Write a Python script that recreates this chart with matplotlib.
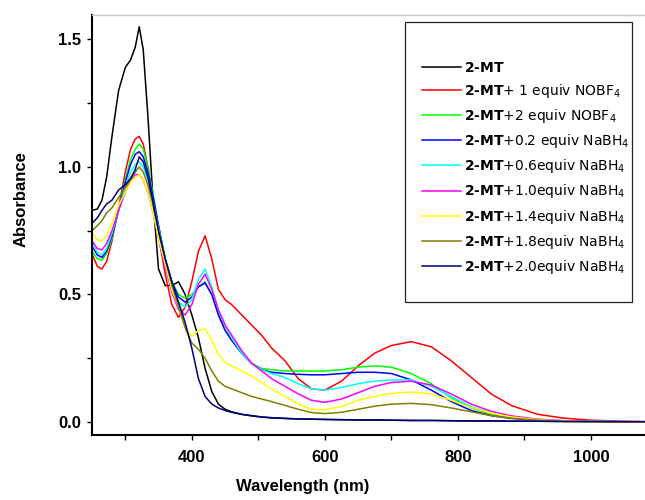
import matplotlib
matplotlib.use("Agg")
import matplotlib.pyplot as plt
from matplotlib.patches import Rectangle
from matplotlib.ticker import FormatStrFormatter

# wavelength grid (nm)
wavelength = [250, 258, 265, 272, 280, 290, 300, 308, 315, 321, 327, 334, 342, 350,
              360, 370, 380, 390, 400, 410, 420, 430, 440, 450, 460, 475, 490, 505,
              520, 540, 560, 580, 600, 625, 650, 675, 700, 730, 760, 790, 820, 850,
              880, 920, 960, 1000, 1050, 1100]

mt = [0.83, 0.835, 0.87, 0.96, 1.12, 1.30, 1.39, 1.42, 1.47, 1.55, 1.46, 1.20, 0.86, 0.60,
      0.535, 0.535, 0.55, 0.50, 0.42, 0.33, 0.21, 0.12, 0.07, 0.05, 0.04, 0.03, 0.024, 0.019,
      0.016, 0.014, 0.012, 0.011, 0.010, 0.009, 0.008, 0.008, 0.007, 0.006, 0.006, 0.005, 0.004, 0.004,
      0.003, 0.003, 0.002, 0.002, 0.001, 0.001]
nobf4_1 = [0.66, 0.61, 0.60, 0.63, 0.71, 0.84, 0.98, 1.07, 1.11, 1.12, 1.09, 1.00, 0.87, 0.73,
           0.58, 0.46, 0.41, 0.45, 0.55, 0.67, 0.73, 0.64, 0.52, 0.48, 0.46, 0.42, 0.38, 0.34,
           0.29, 0.24, 0.17, 0.13, 0.125, 0.16, 0.22, 0.27, 0.30, 0.315, 0.295, 0.24, 0.175, 0.11,
           0.065, 0.03, 0.015, 0.007, 0.003, 0.001]
nobf4_2 = [0.67, 0.64, 0.635, 0.66, 0.72, 0.83, 0.95, 1.03, 1.07, 1.09, 1.07, 1.00, 0.89, 0.77,
           0.64, 0.55, 0.50, 0.485, 0.50, 0.53, 0.55, 0.50, 0.42, 0.36, 0.32, 0.27, 0.23, 0.21,
           0.205, 0.20, 0.20, 0.20, 0.20, 0.205, 0.215, 0.22, 0.215, 0.19, 0.15, 0.095, 0.055, 0.03,
           0.018, 0.009, 0.005, 0.003, 0.001, 0.0]
nabh4_02 = [0.69, 0.655, 0.645, 0.67, 0.73, 0.83, 0.94, 1.01, 1.05, 1.06, 1.04, 0.98, 0.88, 0.77,
            0.64, 0.55, 0.49, 0.47, 0.49, 0.53, 0.545, 0.50, 0.42, 0.36, 0.32, 0.27, 0.23, 0.205,
            0.195, 0.19, 0.187, 0.185, 0.185, 0.19, 0.195, 0.195, 0.19, 0.165, 0.125, 0.08, 0.045, 0.025,
            0.014, 0.007, 0.004, 0.002, 0.001, 0.0]
nabh4_06 = [0.70, 0.665, 0.655, 0.68, 0.74, 0.83, 0.92, 0.98, 1.01, 1.02, 1.00, 0.95, 0.86, 0.76,
            0.64, 0.54, 0.47, 0.45, 0.48, 0.56, 0.60, 0.53, 0.44, 0.38, 0.33, 0.27, 0.23, 0.205,
            0.19, 0.175, 0.15, 0.13, 0.125, 0.135, 0.15, 0.16, 0.165, 0.165, 0.14, 0.10, 0.06, 0.035,
            0.02, 0.009, 0.004, 0.002, 0.001, 0.0]
nabh4_10 = [0.71, 0.68, 0.675, 0.70, 0.75, 0.83, 0.90, 0.95, 0.97, 0.97, 0.95, 0.90, 0.82, 0.72,
            0.61, 0.51, 0.44, 0.42, 0.46, 0.54, 0.58, 0.52, 0.44, 0.38, 0.34, 0.28, 0.23, 0.20,
            0.17, 0.14, 0.11, 0.085, 0.077, 0.09, 0.115, 0.14, 0.155, 0.16, 0.145, 0.11, 0.07, 0.042,
            0.024, 0.011, 0.005, 0.002, 0.001, 0.0]
nabh4_14 = [0.74, 0.715, 0.71, 0.73, 0.78, 0.85, 0.90, 0.94, 0.96, 0.97, 0.95, 0.90, 0.82, 0.72,
            0.62, 0.52, 0.45, 0.37, 0.335, 0.36, 0.365, 0.32, 0.265, 0.235, 0.22, 0.20, 0.18, 0.155,
            0.13, 0.10, 0.07, 0.05, 0.048, 0.06, 0.085, 0.10, 0.112, 0.118, 0.11, 0.085, 0.057, 0.035,
            0.02, 0.009, 0.004, 0.002, 0.001, 0.0]
nabh4_18 = [0.75, 0.77, 0.79, 0.82, 0.84, 0.88, 0.92, 0.95, 0.98, 1.00, 0.98, 0.93, 0.85, 0.75,
            0.64, 0.54, 0.45, 0.37, 0.31, 0.285, 0.25, 0.20, 0.16, 0.14, 0.13, 0.115, 0.10, 0.09,
            0.08, 0.065, 0.05, 0.037, 0.033, 0.038, 0.05, 0.062, 0.07, 0.073, 0.068, 0.055, 0.04, 0.025,
            0.015, 0.007, 0.003, 0.001, 0.0005, 0.0]
nabh4_20 = [0.78, 0.80, 0.83, 0.855, 0.87, 0.91, 0.93, 0.955, 0.99, 1.04, 1.02, 0.96, 0.86, 0.75,
            0.64, 0.55, 0.47, 0.39, 0.29, 0.17, 0.10, 0.07, 0.055, 0.045, 0.038, 0.03, 0.025, 0.02,
            0.017, 0.014, 0.012, 0.011, 0.010, 0.009, 0.008, 0.008, 0.007, 0.006, 0.006, 0.005, 0.004, 0.004,
            0.003, 0.003, 0.002, 0.002, 0.001, 0.001]

series = [mt, nobf4_1, nobf4_2, nabh4_02, nabh4_06, nabh4_10, nabh4_14, nabh4_18, nabh4_20]
labels = [
    r"$\mathbf{2‐MT}$",
    r"$\mathbf{2‐MT}$+ 1 equiv NOBF$_4$",
    r"$\mathbf{2‐MT}$+2 equiv NOBF$_4$",
    r"$\mathbf{2‐MT}$+0.2 equiv NaBH$_4$",
    r"$\mathbf{2‐MT}$+0.6equiv NaBH$_4$",
    r"$\mathbf{2‐MT}$+1.0equiv NaBH$_4$",
    r"$\mathbf{2‐MT}$+1.4equiv NaBH$_4$",
    r"$\mathbf{2‐MT}$+1.8equiv NaBH$_4$",
    r"$\mathbf{2‐MT}$+2.0equiv NaBH$_4$",
]
colors = ["#000000", "#ff0000", "#00ff00", "#0000ff", "#00ffff",
          "#ff00ff", "#ffff00", "#808000", "#000080"]

plt.rcParams["mathtext.fontset"] = "dejavusans"
W, H = 645, 500

fig = plt.figure(figsize=(W / 100, H / 100), dpi=100)
ax = fig.add_axes([92 / W, 65 / H, 565.5 / W, 420 / H])

for y, c, lab in zip(series, colors, labels):
    ax.plot(wavelength, y, color=c, lw=1.1, label=lab)

ax.set_xlim(250, 1100)
ax.set_ylim(-0.051, 1.596)
ax.set_xticks([400, 600, 800, 1000])
ax.set_xticks([300, 500, 700, 900], minor=True)
ax.set_yticks([0.0, 0.5, 1.0, 1.5])
ax.set_yticks([0.25, 0.75, 1.25], minor=True)
ax.yaxis.set_major_formatter(FormatStrFormatter("%.1f"))

ax.tick_params(which="both", direction="out", length=3.8, width=1.0, color="black")
ax.tick_params(axis="y", pad=4)
ax.tick_params(axis="x", pad=7)
for t in ax.get_xticklabels() + ax.get_yticklabels():
    t.set_fontfamily(["Liberation Sans Narrow", "Liberation Sans"])
    t.set_fontweight("bold")
    t.set_fontsize(12)

for s in ["left", "bottom"]:
    ax.spines[s].set_linewidth(1.5)
ax.spines["right"].set_visible(False)
ax.spines["top"].set_color("#c8c8c8")
ax.spines["top"].set_linewidth(1.0)

ax.set_xlabel("Wavelength (nm)", fontsize=12, fontweight="bold", family="Liberation Sans")
ax.set_ylabel("Absorbance", fontsize=12, fontweight="bold", family="Liberation Sans")
ax.xaxis.set_label_coords((302.5 - 92) / 565.5, -0.105)
ax.yaxis.set_label_coords((29 - 92) / 565.5, 0.562)

# legend frame (drawn inside the axes so the legend sits on top of it)
frame = Rectangle((405 / W, 198 / H), 227 / W, 280 / H, transform=fig.transFigure,
                  facecolor="white", edgecolor="#222222", lw=0.9, zorder=3)
ax.add_artist(frame)
leg = ax.legend(loc="upper left", bbox_to_anchor=(422 / W, (H - 61) / H),
                bbox_transform=fig.transFigure, frameon=False, borderpad=0,
                borderaxespad=0, handlelength=2.8, handletextpad=0.2,
                labelspacing=0.51, prop={"family": "DejaVu Sans", "size": 10})
leg.set_zorder(4)

fig.savefig("out.png", dpi=100)
